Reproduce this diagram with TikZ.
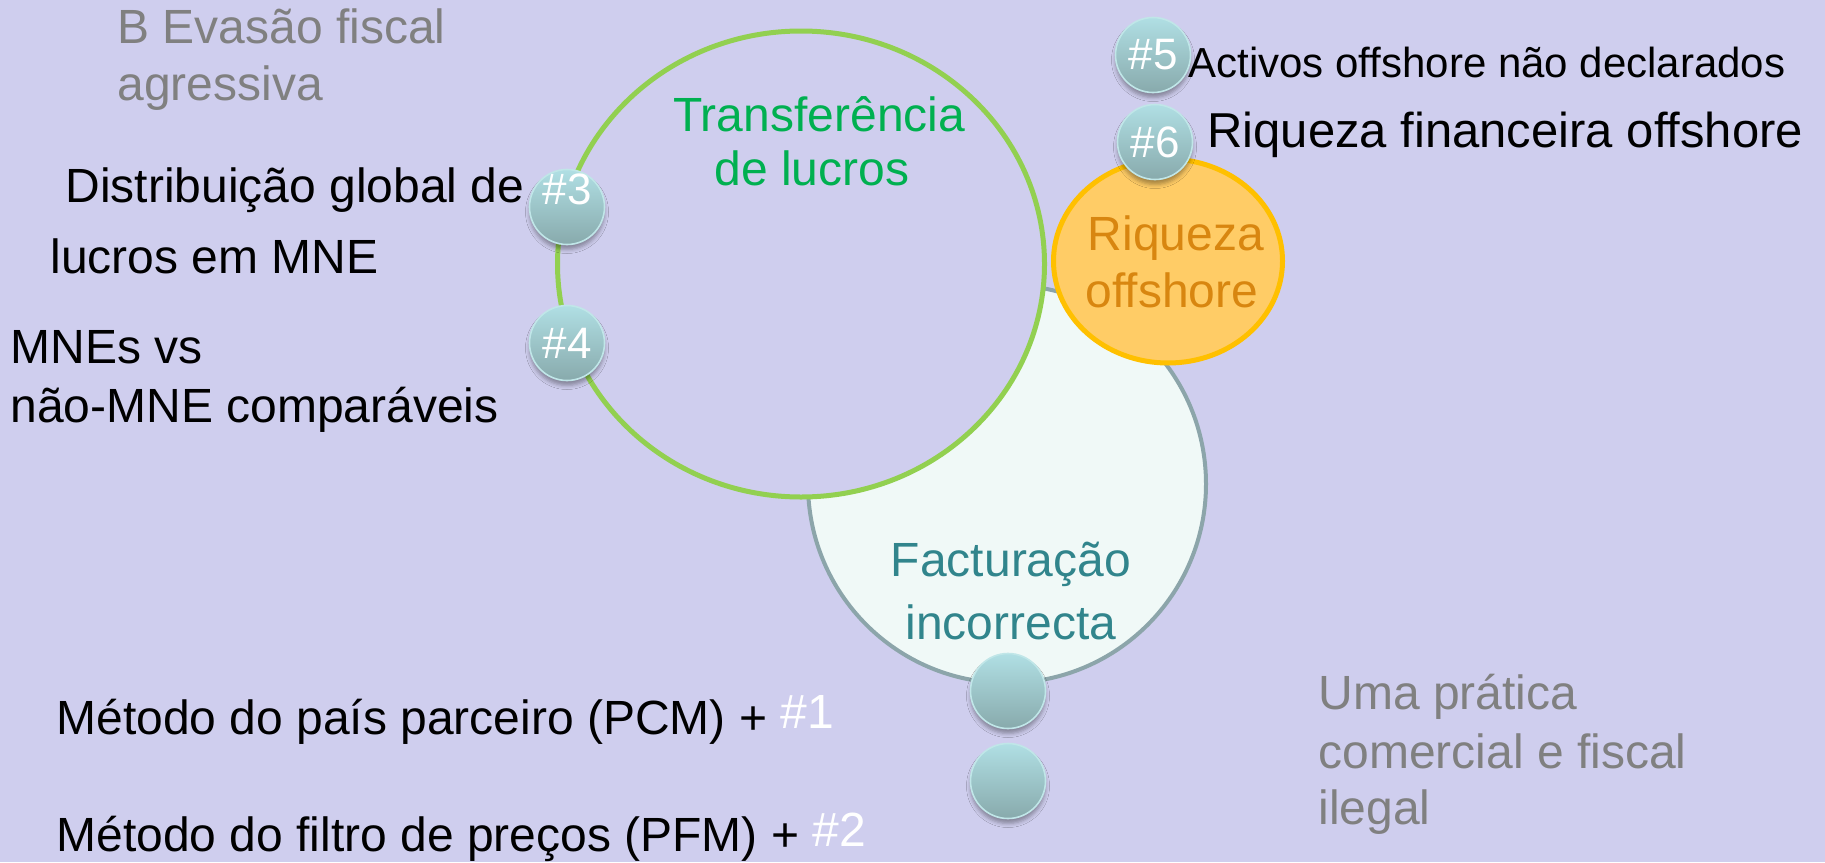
\documentclass[tikz,border=0pt]{standalone}
\usepackage{fontspec}
\setmainfont{Liberation Sans}
\usetikzlibrary{shapes.geometric,shadows.blur}
\definecolor{fundo}{RGB}{207,206,238}
\definecolor{verdeborda}{RGB}{146,208,80}
\definecolor{verdetexto}{RGB}{0,176,80}
\definecolor{cinzatexto}{RGB}{128,128,128}
\definecolor{laranjafundo}{RGB}{255,204,102}
\definecolor{laranjaborda}{RGB}{255,192,0}
\definecolor{laranjatexto}{RGB}{216,134,16}
\definecolor{facturfundo}{RGB}{240,249,247}
\definecolor{facturborda}{RGB}{140,165,170}
\definecolor{facturtexto}{RGB}{49,133,140}
\definecolor{bolhatopo}{RGB}{176,223,228}
\definecolor{bolhabase}{RGB}{136,170,172}
\definecolor{bolhaborda}{RGB}{192,230,232}
\begin{document}
\begin{tikzpicture}[x=0.5pt, y=-0.5pt,
    texto/.style={inner sep=0pt, font=\fontsize{24pt}{29pt}\selectfont},
    bolha/.style={circle, minimum size=37.5pt, inner sep=0pt, draw=bolhaborda, line width=0.8pt,
        top color=bolhatopo, bottom color=bolhabase, text=white,
        font=\fontsize{22pt}{26pt}\selectfont,
        blur shadow={shadow xshift=0pt, shadow yshift=-2.5pt, shadow blur radius=2pt, shadow opacity=35}}]
    \fill[fundo] (0,0) rectangle (1825,862);
    \useasboundingbox (0,0) rectangle (1825,862);

    \node[circle, minimum size=199pt, inner sep=0pt, fill=facturfundo, draw=facturborda, line width=2pt] (factur) at (1007,484) {};
    \node[ellipse, minimum width=243.5pt, minimum height=233pt, inner sep=0pt, fill=fundo, draw=verdeborda, line width=2.5pt] (lucros) at (801,264) {};
    \node[ellipse, minimum width=114.5pt, minimum height=102pt, inner sep=0pt, fill=laranjafundo, draw=laranjaborda, line width=2.5pt] (riqueza) at (1168,261) {};

    \node[texto, text=cinzatexto, anchor=base west] (evasao1) at (117,43) {B Evas\~ao fiscal};
    \node[texto, text=cinzatexto, anchor=base west] (evasao2) at (117,100) {agressiva};

    \node[texto, text=verdetexto, anchor=base west] (transf1) at (673,131) {Transfer\^encia};
    \node[texto, text=verdetexto, anchor=base west] (transf2) at (714,185) {de lucros};

    \node[texto, text=laranjatexto, anchor=base] (riq1) at (1176,250) {Riqueza};
    \node[texto, text=laranjatexto, anchor=base] (riq2) at (1172,307) {offshore};

    \node[texto, text=facturtexto, anchor=base] (fact1) at (1011,576) {Factura\c{c}\~ao};
    \node[texto, text=facturtexto, anchor=base] (fact2) at (1011,639) {incorrecta};

    \node[texto, anchor=base west] (distr1) at (65,202) {Distribui\c{c}\~ao global de};
    \node[texto, anchor=base west] (distr2) at (50,273) {lucros em MNE};
    \node[texto, anchor=base west] (mne1) at (10,363) {MNEs vs};
    \node[texto, anchor=base west] (mne2) at (10,422) {n\~ao-MNE compar\'aveis};

    \node[texto, font=\fontsize{21pt}{25pt}\selectfont, anchor=base west] (activos) at (1188,77) {Activos offshore n\~ao declarados};
    \node[texto, font=\fontsize{24.5pt}{29pt}\selectfont, anchor=base west] (financ) at (1207,147) {Riqueza financeira offshore};

    \node[texto, text=cinzatexto, anchor=base west] (pratica1) at (1318,709) {Uma pr\'atica};
    \node[texto, text=cinzatexto, anchor=base west] (pratica2) at (1318,768) {comercial e fiscal};
    \node[texto, text=cinzatexto, anchor=base west] (pratica3) at (1318,824) {ilegal};

    \node[texto, anchor=base west] (pcm) at (56,734) {M\'etodo do pa\'is parceiro (PCM) + \raisebox{3pt}{\textcolor{white}{\#1}}};
    \node[texto, anchor=base west] (pfm) at (56,851) {M\'etodo do filtro de pre\c{c}os (PFM) + \raisebox{2.5pt}{\textcolor{white}{\#2}}};

    \node[bolha] (b3) at (567,207) {\raisebox{9pt}[\height][\depth]{\#3}};
    \node[bolha] (b4) at (567,343) {\#4};
    \node[bolha] (b5) at (1153,55) {\#5};
    \node[bolha] (b6) at (1155,142) {\#6};
    \node[bolha] (b1) at (1008,691) {};
    \node[bolha] (b2) at (1008,781) {};
\end{tikzpicture}
\end{document}
